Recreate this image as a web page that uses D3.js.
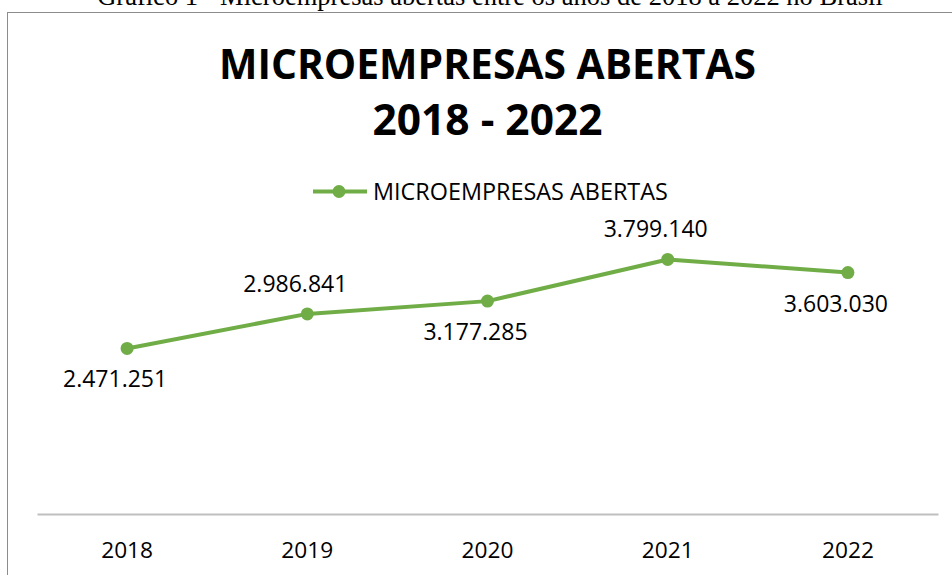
<!DOCTYPE html>
<html>
<head>
<meta charset="utf-8">
<script src="https://cdn.jsdelivr.net/npm/d3@7"></script>
<style>
  html, body { margin: 0; padding: 0; background: #fff; }
  svg { display: block; }
</style>
</head>
<body>
<svg id="chart" width="952" height="575"></svg>
<script>
// ---- Data ----
const years = ["2018", "2019", "2020", "2021", "2022"];
const microempresas = [2471251, 2986841, 3177285, 3799140, 3603030];
const labelPlacement = ["below", "above", "below", "above", "below"];
const seriesName = "MICROEMPRESAS ABERTAS";
const chartTitle = ["MICROEMPRESAS ABERTAS", "2018 - 2022"];
const caption = "Gráfico 1 - Microempresas abertas entre os anos de 2018 a 2022 no Brasil";
const yDomain = [0, 4000000];

// ---- Setup ----
const svg = d3.select("#chart");
const green = "#70AD47";
const ptBR = d3.formatLocale({ decimal: ",", thousands: ".", grouping: [3], currency: ["R$", ""] });
const fmt = ptBR.format(",d");

function fitText(sel, targetWidth) {
  const node = sel.node();
  const fs = parseFloat(sel.attr("font-size"));
  const w = node.getComputedTextLength();
  if (w > 0) sel.attr("font-size", (fs * targetWidth / w).toFixed(2));
  return sel;
}

// Outer chart border (extends beyond the right/bottom of the frame)
svg.append("rect")
  .attr("x", 7.5).attr("y", 12.5)
  .attr("width", 1000).attr("height", 700)
  .attr("fill", "none").attr("stroke", "#8c8c8c").attr("stroke-width", 1);

// Caption (clipped at top)
const cap = svg.append("text")
  .attr("x", 490).attr("y", 5)
  .attr("text-anchor", "middle")
  .attr("font-family", "'Liberation Serif', 'Times New Roman', serif")
  .attr("font-size", 24)
  .attr("fill", "#000")
  .text(caption);
fitText(cap, 786);

// Title
const t1 = svg.append("text")
  .attr("x", 487.5).attr("y", 79)
  .attr("text-anchor", "middle")
  .attr("font-family", "'Open Sans', sans-serif")
  .attr("font-weight", "bold")
  .attr("font-size", 40)
  .attr("fill", "#000")
  .text(chartTitle[0]);
fitText(t1, 537);
const t2 = svg.append("text")
  .attr("x", 487.5).attr("y", 135)
  .attr("text-anchor", "middle")
  .attr("font-family", "'Open Sans', sans-serif")
  .attr("font-weight", "bold")
  .attr("font-size", 40)
  .attr("fill", "#000")
  .text(chartTitle[1]);
fitText(t2, 230);

// Scales
const x = d3.scaleBand().domain(years).range([37, 938]);
const y = d3.scaleLinear().domain(yDomain).range([514, 246]);
const cx = d => x(d) + x.bandwidth() / 2;

// X axis
const xAxis = svg.append("g")
  .attr("transform", "translate(0,514)")
  .call(d3.axisBottom(x).tickSize(0).tickPadding(0));
xAxis.select(".domain").attr("stroke", "#bfbfbf").attr("stroke-width", 2);
xAxis.selectAll(".tick text")
  .attr("font-family", "'Open Sans', sans-serif")
  .attr("font-size", 22.7)
  .attr("fill", "#000")
  .attr("dy", null)
  .attr("y", 44);

// Line
const pts = years.map((yr, i) => ({ yr, v: microempresas[i], pos: labelPlacement[i] }));
svg.append("path")
  .datum(pts)
  .attr("fill", "none")
  .attr("stroke", green)
  .attr("stroke-width", 4)
  .attr("stroke-linejoin", "round")
  .attr("stroke-linecap", "round")
  .attr("d", d3.line().x(d => cx(d.yr)).y(d => y(d.v)));

svg.selectAll("circle.pt")
  .data(pts)
  .enter().append("circle")
  .attr("class", "pt")
  .attr("cx", d => cx(d.yr))
  .attr("cy", d => y(d.v))
  .attr("r", 6.5)
  .attr("fill", green);

// Data labels
svg.selectAll("text.lbl")
  .data(pts)
  .enter().append("text")
  .attr("class", "lbl")
  .attr("x", d => cx(d.yr) - 12)
  .attr("y", d => y(d.v) + (d.pos === "below" ? 39 : -22))
  .attr("text-anchor", "middle")
  .attr("font-family", "'Open Sans', sans-serif")
  .attr("font-size", 23)
  .attr("fill", "#000")
  .text(d => fmt(d.v));

// Legend
const lg = svg.append("g");
lg.append("line")
  .attr("x1", 313).attr("x2", 367)
  .attr("y1", 191.5).attr("y2", 191.5)
  .attr("stroke", green).attr("stroke-width", 4);
lg.append("circle")
  .attr("cx", 339).attr("cy", 191.5).attr("r", 6.5).attr("fill", green);
const lt = lg.append("text")
  .attr("x", 373).attr("y", 200)
  .attr("font-family", "'Open Sans', sans-serif")
  .attr("font-size", 20)
  .attr("fill", "#000")
  .text(seriesName);
fitText(lt, 295);
</script>
</body>
</html>
